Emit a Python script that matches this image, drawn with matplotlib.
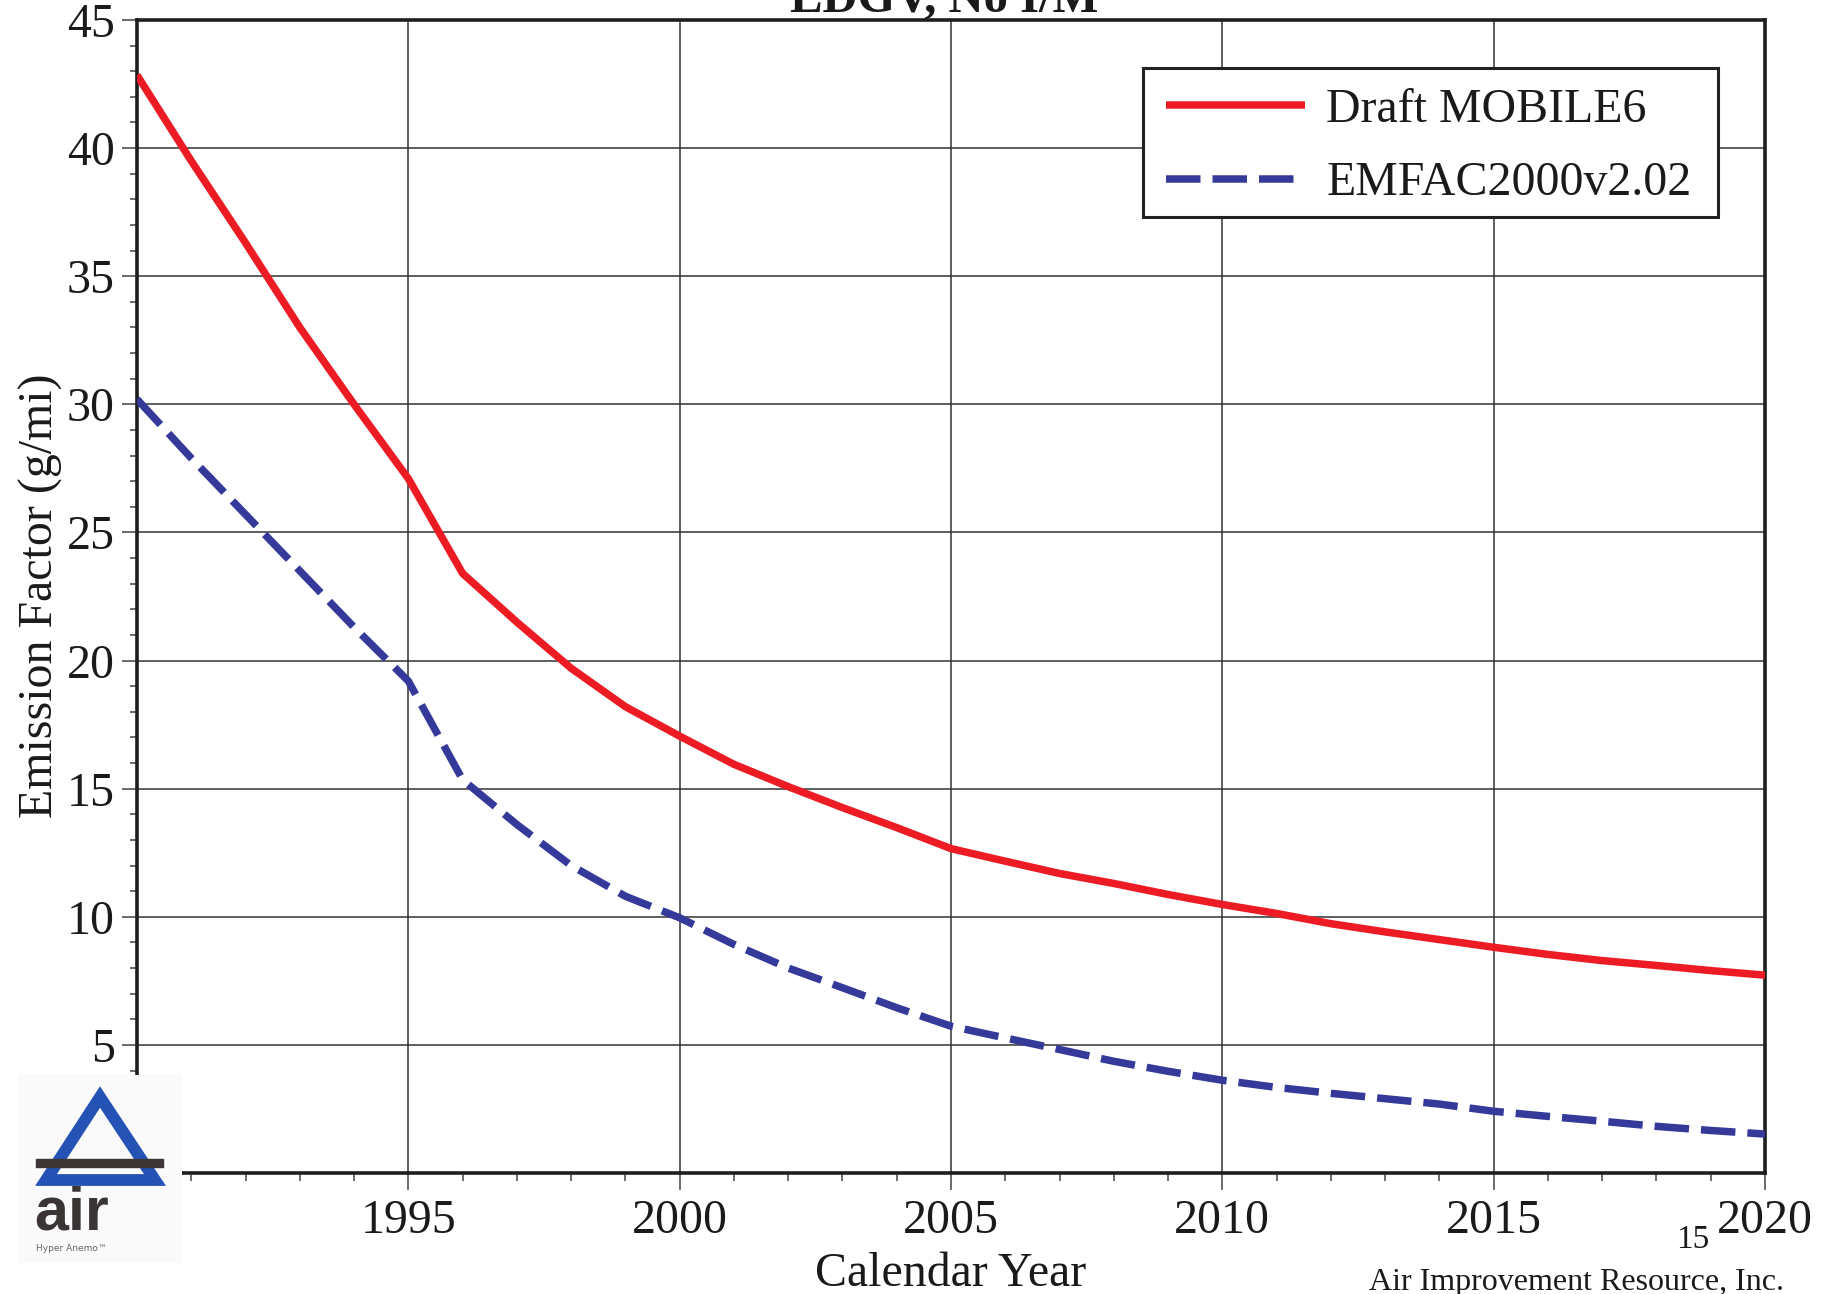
import matplotlib
matplotlib.use("Agg")
import matplotlib.pyplot as plt
from matplotlib.ticker import MultipleLocator
from matplotlib.patches import Polygon, Rectangle

plt.rcParams['font.family'] = ['Liberation Serif', 'DejaVu Serif']

years = list(range(1990, 2021))
mobile6 = [42.85, 39.5, 36.3, 33.0, 30.0, 27.1, 23.4, 21.5, 19.7, 18.2,
           17.05, 15.95, 15.08, 14.26, 13.48, 12.66, 12.17, 11.69, 11.3, 10.87,
           10.48, 10.13, 9.73, 9.41, 9.11, 8.81, 8.53, 8.29, 8.1, 7.9, 7.72]
emfac = [30.2, 27.9, 25.7, 23.5, 21.3, 19.2, 15.35, 13.6, 12.0, 10.8,
         9.96, 8.92, 8.0, 7.23, 6.45, 5.73, 5.27, 4.82, 4.36, 3.97,
         3.62, 3.34, 3.11, 2.9, 2.69, 2.41, 2.21, 2.02, 1.82, 1.66, 1.52]
series_labels = ["Draft MOBILE6", "EMFAC2000v2.02"]
x_ticks = [1995, 2000, 2005, 2010, 2015, 2020]
y_ticks = [5, 10, 15, 20, 25, 30, 35, 40, 45]

W, H = 1839, 1294
fig = plt.figure(figsize=(W / 100, H / 100), dpi=100)
fig.patch.set_facecolor("white")

left, right, top, bottom = 137, 1765, 20, 1173
ax = fig.add_axes([left / W, 1 - bottom / H, (right - left) / W, (bottom - top) / H])

RED = "#ED1C24"
BLUE = "#35399A"
ax.plot(years, mobile6, color=RED, lw=5.4, solid_capstyle="butt", zorder=3,
        label=series_labels[0])
ax.plot(years, emfac, color=BLUE, lw=5.4, dashes=(4.6, 1.6), dash_capstyle="butt",
        zorder=3, label=series_labels[1])

ax.set_xlim(1990, 2020)
ax.set_ylim(0, 45)
ax.set_xticks(x_ticks)
ax.set_yticks(y_ticks)
ax.xaxis.set_minor_locator(MultipleLocator(1))
ax.yaxis.set_minor_locator(MultipleLocator(1))
ax.tick_params(axis="x", which="major", direction="out", length=12, width=1.1,
               color="#444444", labelsize=34.5, pad=7, labelcolor="#1a1a1a")
ax.tick_params(axis="x", which="minor", direction="out", length=6, width=1.1, color="#444444")
ax.tick_params(axis="y", which="major", direction="out", length=11, width=1.1,
               color="#444444", labelsize=34.5, pad=5, labelcolor="#1a1a1a")
ax.tick_params(axis="y", which="minor", direction="out", length=5, width=1.1, color="#444444")

ax.grid(True, which="major", color="#333333", lw=1.1, zorder=1)
for s in ax.spines.values():
    s.set_linewidth(2.6)
    s.set_color("#1e1e1e")

# Legend frame drawn as a box, legend content centred inside it
ax.add_patch(Rectangle((0.6179, 0.8291), 0.9711 - 0.6179, 0.9584 - 0.8291,
                       transform=ax.transAxes, facecolor="white", edgecolor="#222222",
                       lw=2.2, zorder=5))
leg = ax.legend(loc="center", bbox_to_anchor=(0.7935, 0.8903), borderaxespad=0,
                fontsize=34.5, frameon=False, handlelength=2.9,
                handletextpad=0.45, borderpad=0, labelspacing=0.62)
leg.set_zorder(6)
for t in leg.get_texts():
    t.set_color("#1a1a1a")

# Title (clipped at top)
fig.text(944 / W, 1 - 11 / H, "LDGV, No I/M", ha="center", va="baseline",
         fontsize=35, fontweight="bold", color="#1a1a1a")
# Axis labels
fig.text(41 / W, 1 - 596 / H, "Emission Factor (g/mi)", rotation=90, ha="center",
         va="center", fontsize=34.5, color="#1a1a1a")
fig.text(951 / W, 1 - 1286 / H, "Calendar Year", ha="center", va="baseline",
         fontsize=34.5, color="#1a1a1a")
# Page number and company
fig.text(1676 / W, 1 - 1248 / H, "15", ha="left", va="baseline", fontsize=24, color="#1a1a1a")
fig.text(1369 / W, 1 - 1290 / H, "Air Improvement Resource, Inc.", ha="left",
         va="baseline", fontsize=23, color="#1a1a1a")

# Logo
lx0, lx1, ly0, ly1 = 18, 182, 1075, 1263
lax = fig.add_axes([lx0 / W, 1 - ly1 / H, (lx1 - lx0) / W, (ly1 - ly0) / H], zorder=10)
lax.set_xlim(lx0, lx1)
lax.set_ylim(ly1, ly0)
lax.set_facecolor("#fafafa")
lax.set_xticks([])
lax.set_yticks([])
for s in lax.spines.values():
    s.set_visible(False)
tri = Polygon([[100, 1097], [46, 1180], [155, 1180]], closed=True, fill=False,
              edgecolor="#2452B5", lw=8.5, joinstyle="miter")
lax.add_patch(tri)
lax.add_patch(Rectangle((36, 1159), 127, 8, color="#3b3536"))
lax.text(34, 1229, "air", ha="left", va="baseline", fontsize=44, fontweight="bold",
         color="#3a3434", family="Liberation Sans")
lax.text(36, 1251, "Hyper Anemo\u2122", ha="left", va="baseline", fontsize=6.5,
         color="#666666", family="DejaVu Sans")

fig.savefig("out.png", dpi=100, facecolor="white")
